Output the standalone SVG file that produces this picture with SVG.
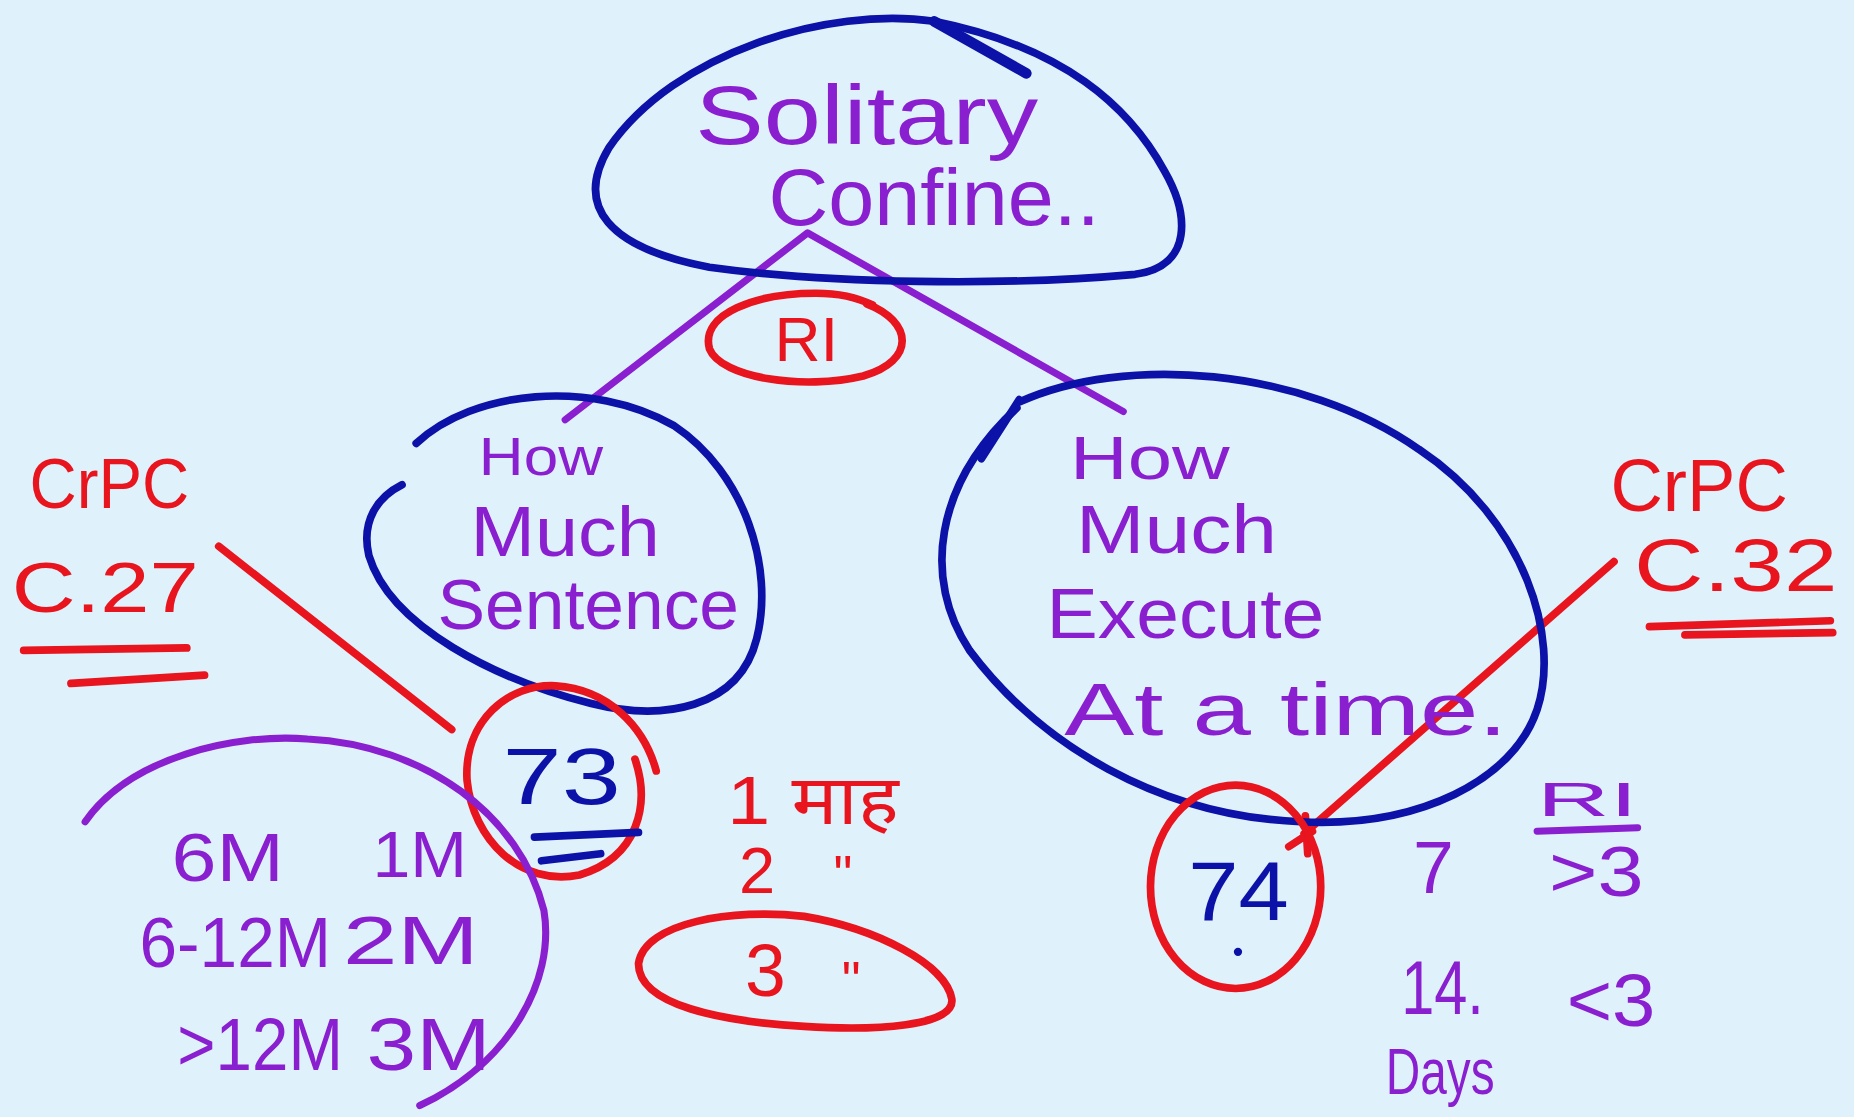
<svg xmlns="http://www.w3.org/2000/svg" width="1854" height="1117" viewBox="0 0 1854 1117">
<style>
.b{fill:none;stroke:#0c12a8;stroke-width:6.5;stroke-linecap:round;stroke-linejoin:round}
.p{fill:none;stroke:#8a1fd0;stroke-width:6;stroke-linecap:round;stroke-linejoin:round}
.r{fill:none;stroke:#e8141e;stroke-width:6.5;stroke-linecap:round;stroke-linejoin:round}
text{font-family:"Liberation Sans","Noto Sans","Noto Sans Devanagari",sans-serif}
.tp{fill:#8a1fd0}
.tb{fill:#0c12a8}
.tr{fill:#e8141e}
</style>
<rect width="1854" height="1117" fill="#dff2fb"/>
<g transform="scale(1.1824)">
<g id="connectors">
<path class="p" d="M478,355 L683,197 L950,348"/>
<path class="r" d="M185,462 L382,617"/>
<path class="r" d="M1365,475 L1103,705"/>
<path class="r" d="M1090,716 L1110,703 M1104,690 L1106,722"/>
</g>
<g id="node-solitary">
<path class="b" d="M790,18 C700,5 570,45 515,125 C485,175 515,210 600,226 C700,240 850,242 960,232 C1010,225 1005,180 985,145 C955,90 900,40 790,18"/>
<path class="b" d="M790,18 L868,62" style="stroke-width:9"/>
<text class="tp" x="588" y="122" font-size="70" textLength="290" lengthAdjust="spacingAndGlyphs">Solitary</text>
<text class="tp" x="650" y="190" font-size="68" textLength="280" lengthAdjust="spacingAndGlyphs">Confine..</text>
</g>
<g id="node-ri">
<path class="r" d="M733,257 C772,272 775,305 730,318 C680,330 610,320 600,295 C592,265 640,248 690,248 C712,248 726,252 738,258"/>
<text class="tr" x="682" y="305" font-size="54" text-anchor="middle">RI</text>
</g>
<g id="node-sentence">
<path class="b" d="M352,375 C400,330 500,320 570,360 C630,400 655,480 640,540 C625,600 560,610 500,595 C420,575 330,530 312,470 C305,440 320,420 340,410"/>
<text class="tp" x="405" y="402" font-size="45" textLength="105" lengthAdjust="spacingAndGlyphs">How</text>
<text class="tp" x="398" y="470" font-size="60" textLength="160" lengthAdjust="spacingAndGlyphs">Much</text>
<text class="tp" x="370" y="532" font-size="60" textLength="255" lengthAdjust="spacingAndGlyphs">Sentence</text>
</g>
<g id="node-execute">
<path class="b" d="M862,340 C950,300 1100,310 1200,380 C1290,440 1320,540 1300,600 C1280,660 1200,700 1100,695 C980,690 880,630 820,550 C780,490 790,410 860,345"/>
<path class="b" d="M830,388 L862,338"/>
<text class="tp" x="905" y="405" font-size="52" textLength="135" lengthAdjust="spacingAndGlyphs">How</text>
<text class="tp" x="910" y="468" font-size="58" textLength="170" lengthAdjust="spacingAndGlyphs">Much</text>
<text class="tp" x="885" y="540" font-size="60" textLength="235" lengthAdjust="spacingAndGlyphs">Execute</text>
<text class="tp" x="900" y="622" font-size="62" textLength="375" lengthAdjust="spacingAndGlyphs">At a time.</text>
</g>
<g id="node-crpc27">
<text class="tr" x="25" y="430" font-size="60" textLength="135" lengthAdjust="spacingAndGlyphs">CrPC</text>
<text class="tr" x="10" y="518" font-size="60" textLength="158" lengthAdjust="spacingAndGlyphs">C.27</text>
<path class="r" d="M20,550 L158,548 M60,578 L173,571"/>
</g>
<g id="node-crpc32">
<text class="tr" x="1362" y="432" font-size="62" textLength="150" lengthAdjust="spacingAndGlyphs">CrPC</text>
<text class="tr" x="1382" y="500" font-size="62" textLength="172" lengthAdjust="spacingAndGlyphs">C.32</text>
<path class="r" d="M1395,530 L1548,525 M1425,537 L1550,535"/>
</g>
<g id="node-73">
<path class="r" d="M537,642 C550,680 540,725 490,740 C440,750 400,710 395,660 C392,610 430,578 470,580 C515,583 545,615 555,652"/>
<text class="tb" x="425" y="680" font-size="68" textLength="100" lengthAdjust="spacingAndGlyphs">73</text>
<path class="b" d="M452,708 L540,704 M458,728 L508,722"/>
</g>
<g id="node-74">
<ellipse class="r" cx="1045" cy="750" rx="72" ry="86"/>
<text class="tb" x="1005" y="778" font-size="70" textLength="85" lengthAdjust="spacingAndGlyphs">74</text>
<circle cx="1047" cy="805" r="3.5" fill="#0c12a8"/>
</g>
<g id="node-months">
<path class="p" d="M72,695 C110,640 200,620 260,625 C360,630 440,690 460,770 C470,830 430,900 355,935"/>
<text class="tp" x="145" y="745" font-size="58" textLength="95" lengthAdjust="spacingAndGlyphs">6M</text>
<text class="tp" x="315" y="742" font-size="55" textLength="80" lengthAdjust="spacingAndGlyphs">1M</text>
<text class="tp" x="118" y="818" font-size="60" textLength="162" lengthAdjust="spacingAndGlyphs">6-12M</text>
<text class="tp" x="290" y="815" font-size="58" textLength="115" lengthAdjust="spacingAndGlyphs">2M</text>
<text class="tp" x="150" y="905" font-size="62" textLength="140" lengthAdjust="spacingAndGlyphs">&gt;12M</text>
<text class="tp" x="310" y="905" font-size="62" textLength="105" lengthAdjust="spacingAndGlyphs">3M</text>
</g>
<g id="node-mah">
<text class="tr" x="615" y="697" font-size="58" textLength="145" lengthAdjust="spacingAndGlyphs">1 माह</text>
<text x="625" y="755" font-size="55" fill="#e8141e">2</text>
<text x="705" y="755" font-size="45" fill="#e8141e">"</text>
<text x="630" y="842" font-size="62" fill="#e8141e">3</text>
<text x="712" y="845" font-size="45" fill="#e8141e">"</text>
<path class="r" d="M540,815 C545,780 620,768 680,775 C740,785 800,815 805,845 C808,868 740,872 680,868 C610,864 540,850 540,815 Z"/>
</g>
<g id="node-days">
<text class="tp" x="1300" y="690" font-size="40" textLength="85" lengthAdjust="spacingAndGlyphs">RI</text>
<path class="p" d="M1300,703 L1385,700"/>
<text class="tp" x="1310" y="758" font-size="60" textLength="80" lengthAdjust="spacingAndGlyphs">&gt;3</text>
<text class="tp" x="1195" y="755" font-size="62">7</text>
<text class="tp" x="1185" y="858" font-size="65" textLength="70" lengthAdjust="spacingAndGlyphs">14.</text>
<text class="tp" x="1325" y="868" font-size="62" textLength="75" lengthAdjust="spacingAndGlyphs">&lt;3</text>
<text class="tp" x="1172" y="925" font-size="55" textLength="92" lengthAdjust="spacingAndGlyphs">Days</text>
</g>
</g>
</svg>
